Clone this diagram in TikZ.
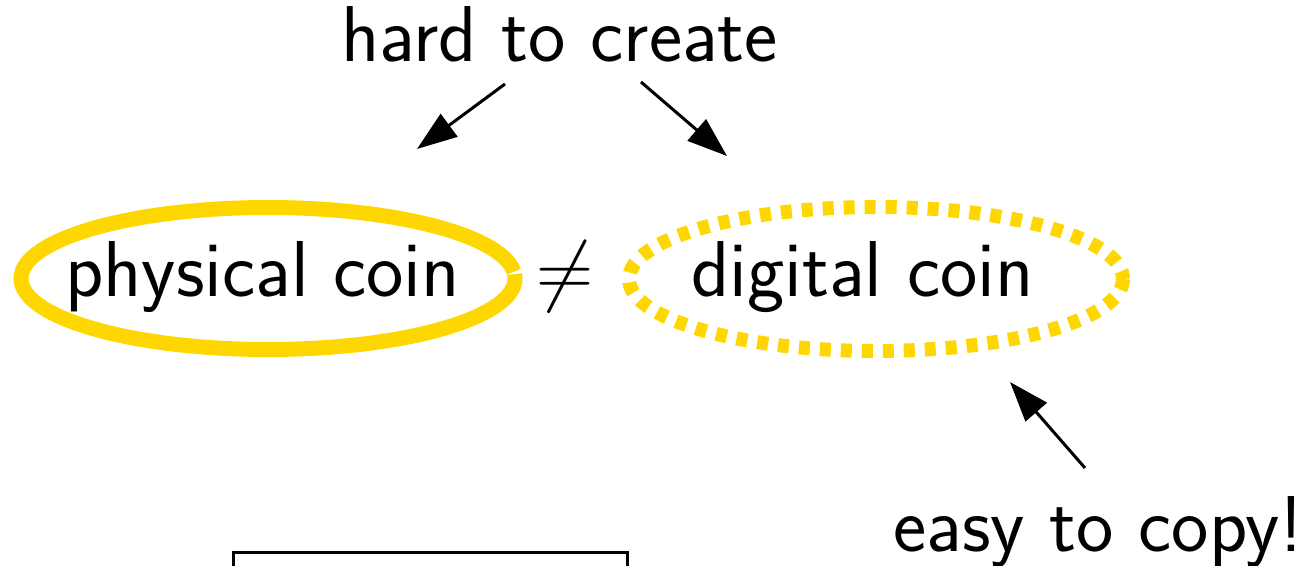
\RequirePackage{fix-cm}
\documentclass[tikz,border=0pt]{standalone}
\usetikzlibrary{arrows.meta}
\definecolor{coingold}{RGB}{255,215,0}
\begin{document}
\begin{tikzpicture}[x=0.5pt,y=-0.5pt,
  font=\sffamily\fontsize{39.6}{47}\selectfont,
  lbl/.style={inner sep=0pt,anchor=base},
  pointer/.style={line width=1.5pt,-{Triangle[length=20pt,width=14pt]}},
  solidring/.style={draw=coingold,line width=7.5pt},
  dotring/.style={draw=coingold,line width=7pt,dash pattern=on 5.5pt off 5pt}]
\useasboundingbox (0,0) rectangle (1304,566);
\begin{scope}
\clip (0,0) rectangle (1304,566);

% headings and remarks
\node[lbl] (hard) at (559.5,62) {hard to create};
\node[lbl] (easy) at (1098.5,551) {easy to copy!};

% the two coins
\node[lbl] (phys) at (262.5,297) {physical coin};
\node[lbl] (neq)  at (565,297) {$\neq$};
\node[lbl] (digi) at (862.5,297) {digital coin};

\coordinate (pc) at (268,278.5);
\coordinate (dc) at (876,279);
\draw[solidring] (pc) ++(-3.5:247 and 71)
  arc[start angle=-3.5,end angle=354.5,x radius=247,y radius=71];
\draw[dotring] (dc) ellipse[x radius=247,y radius=72];

% arrows
\coordinate (hardL) at (505,84);
\coordinate (hardR) at (641,82);
\coordinate (physT) at (417,149);
\coordinate (digiT) at (727,156);
\coordinate (easyS) at (1085,468);
\coordinate (digiB) at (1010,382);
\draw[pointer] (hardL) -- (physT);
\draw[pointer] (hardR) -- (digiT);
\draw[pointer] (easyS) -- (digiB);

% box below, cut off by the page edge
\node[draw,line width=1.5pt,inner sep=0pt,minimum width=197pt,minimum height=40pt,anchor=north west] (box) at (231.5,550.5) {};
\end{scope}
\end{tikzpicture}
\end{document}
